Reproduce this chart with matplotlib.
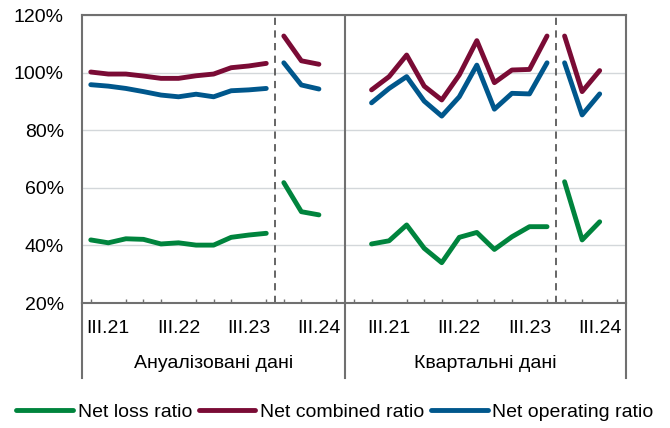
import numpy as np
import matplotlib.pyplot as plt
from matplotlib.transforms import blended_transform_factory

plt.rcParams['font.family'] = ['Liberation Sans', 'DejaVu Sans']

# quarters II.21 .. III.24 (14 points), break between IV.23 and I.24
quarters = ['II.21', 'III.21', 'IV.21', 'I.22', 'II.22', 'III.22', 'IV.22',
            'I.23', 'II.23', 'III.23', 'IV.23', 'I.24', 'II.24', 'III.24']
tick_labels = ['III.21', 'III.22', 'III.23', 'III.24']
groups = ['Ануалізовані дані', 'Квартальні дані']
n_old = 11

ann_loss = [41.9, 40.9, 42.3, 42.1, 40.5, 40.9, 40.1, 40.1, 42.8, 43.6, 44.2,
            61.8, 51.7, 50.6]
ann_combined = [100.2, 99.5, 99.5, 98.8, 98.0, 98.0, 98.9, 99.5, 101.7, 102.3, 103.2,
                112.7, 104.1, 102.9]
ann_operating = [95.8, 95.3, 94.5, 93.4, 92.2, 91.6, 92.5, 91.6, 93.7, 94.0, 94.5,
                 103.4, 95.7, 94.3]

q_loss = [40.5, 41.6, 47.1, 39.0, 34.0, 42.8, 44.5, 38.6, 43.0, 46.5, 46.5,
          62.1, 41.9, 48.2]
q_combined = [94.0, 98.6, 106.1, 95.3, 90.5, 99.2, 111.1, 96.5, 100.9, 101.1, 112.7,
              112.7, 93.4, 100.7]
q_operating = [89.5, 94.5, 98.6, 90.1, 84.9, 91.6, 102.6, 87.3, 92.8, 92.6, 103.4,
               103.4, 85.3, 92.6]

names = ['Net loss ratio', 'Net combined ratio', 'Net operating ratio']
colors = ['#00843D', '#7A0B35', '#00578C']
fs = 14

fig = plt.figure(figsize=(6.7, 4.28), dpi=100)
ax = fig.add_axes([82 / 670, 1 - 303 / 428, 544 / 670, 288 / 428])

# 31 category slots: left group 15, right group 16
x_left = np.arange(14) + 0.5
x_right = np.arange(14) + 16.5

for name, col, a, q in zip(names, colors,
                           [ann_loss, ann_combined, ann_operating],
                           [q_loss, q_combined, q_operating]):
    for xs, ys in [(x_left, a), (x_right, q)]:
        ax.plot(xs[:n_old], ys[:n_old], color=col, lw=3.5, solid_capstyle='round',
                label=name if xs is x_left else None)
        ax.plot(xs[n_old:], ys[n_old:], color=col, lw=3.5, solid_capstyle='round')

for xd in [11, 27]:
    ax.axvline(xd, color='#595959', lw=1.3, ls=(0, (4, 3)))
ax.axvline(15, color='#707070', lw=1.5)

ax.set_xlim(0, 31)
ax.set_ylim(20, 120)
ax.set_yticks(np.arange(20, 121, 20))
ax.set_yticklabels(['{:.0f}%'.format(v) for v in np.arange(20, 121, 20)], fontsize=fs)
ax.grid(axis='y', color='#D3D7DA', lw=1)
ax.set_axisbelow(True)
ax.tick_params(axis='y', length=0, pad=13)

pos = [1.5, 5.5, 9.5, 13.5, 17.5, 21.5, 25.5, 29.5]
ax.set_xticks(pos)
ax.set_xticklabels(tick_labels * 2, fontsize=fs)
ax.set_xticks(np.arange(31) + 0.5, minor=True)
ax.tick_params(axis='x', which='major', length=0, pad=12)
ax.tick_params(axis='x', which='minor', direction='in', length=3, width=1, color='#707070')

for s in ax.spines.values():
    s.set_color('#707070')
    s.set_linewidth(1.5)

tr = blended_transform_factory(ax.transData, ax.transAxes)
for xs in [0, 15, 31]:
    ax.plot([xs, xs], [0, -0.26], transform=tr, color='#707070', lw=1.5, clip_on=False)
ax.text(7.5, -0.21, groups[0], transform=tr, ha='center', va='center', fontsize=fs)
ax.text(23, -0.21, groups[1], transform=tr, ha='center', va='center', fontsize=fs)

fig.legend(loc='center', bbox_to_anchor=(0.5, 1 - 412 / 428), ncol=3, frameon=False,
           fontsize=fs, handlelength=2.9, handletextpad=0.25, columnspacing=0.35)

fig.savefig('out.png', dpi=100)
